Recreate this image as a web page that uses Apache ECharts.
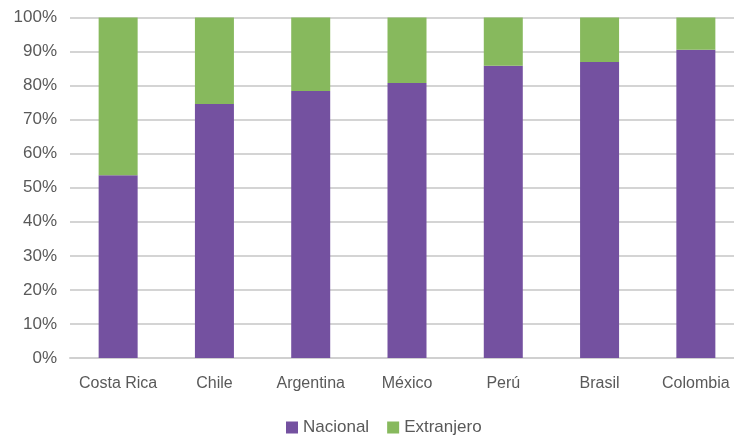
<!DOCTYPE html>
<html>
<head>
<meta charset="utf-8">
<script src="https://cdn.jsdelivr.net/npm/echarts@6/dist/echarts.min.js"></script>
<style>
  html, body { margin: 0; padding: 0; background: #fff; }
  #chart { width: 734px; height: 438px; }
</style>
</head>
<body>
<div id="chart"></div>
<script>
const paises = ['Costa Rica', 'Chile', 'Argentina', 'México', 'Perú', 'Brasil', 'Colombia'];
const nacional = [53.7, 74.6, 78.4, 80.8, 85.8, 86.9, 90.5];
const extranjero = [46.3, 25.4, 21.6, 19.2, 14.2, 13.1, 9.5];

const chart = echarts.init(document.getElementById('chart'));

const fuente = "'Liberation Sans', Arial, sans-serif";

chart.setOption({
  backgroundColor: '#fff',
  animation: false,
  textStyle: { fontFamily: fuente },
  grid: { left: 70, top: 17.5, width: 674, height: 340.5, outerBoundsMode: 'none', containLabel: false },
  legend: {
    left: 281,
    top: 414,
    icon: 'rect',
    itemWidth: 12,
    itemHeight: 12,
    itemGap: 18,
    textStyle: { color: '#595959', fontSize: 17, fontFamily: fuente },
    data: ['Nacional', 'Extranjero']
  },
  xAxis: {
    type: 'category',
    data: paises,
    axisTick: { show: false },
    axisLine: { lineStyle: { color: '#D0D0D0', width: 2 } },
    axisLabel: { color: '#595959', fontSize: 16, margin: 18, interval: 0 }
  },
  yAxis: {
    type: 'value',
    min: 0,
    max: 100,
    interval: 10,
    axisLine: { show: false },
    axisTick: { show: false },
    axisLabel: { formatter: '{value}%', color: '#595959', fontSize: 17, margin: 13 },
    splitLine: { lineStyle: { color: '#D4D4D4', width: 2 } }
  },
  series: [
    {
      name: 'Nacional',
      type: 'bar',
      stack: 'total',
      barWidth: 39,
      itemStyle: { color: '#7451A0' },
      data: nacional
    },
    {
      name: 'Extranjero',
      type: 'bar',
      stack: 'total',
      barWidth: 39,
      itemStyle: { color: '#87B95D' },
      data: extranjero
    }
  ]
});
</script>
</body>
</html>
